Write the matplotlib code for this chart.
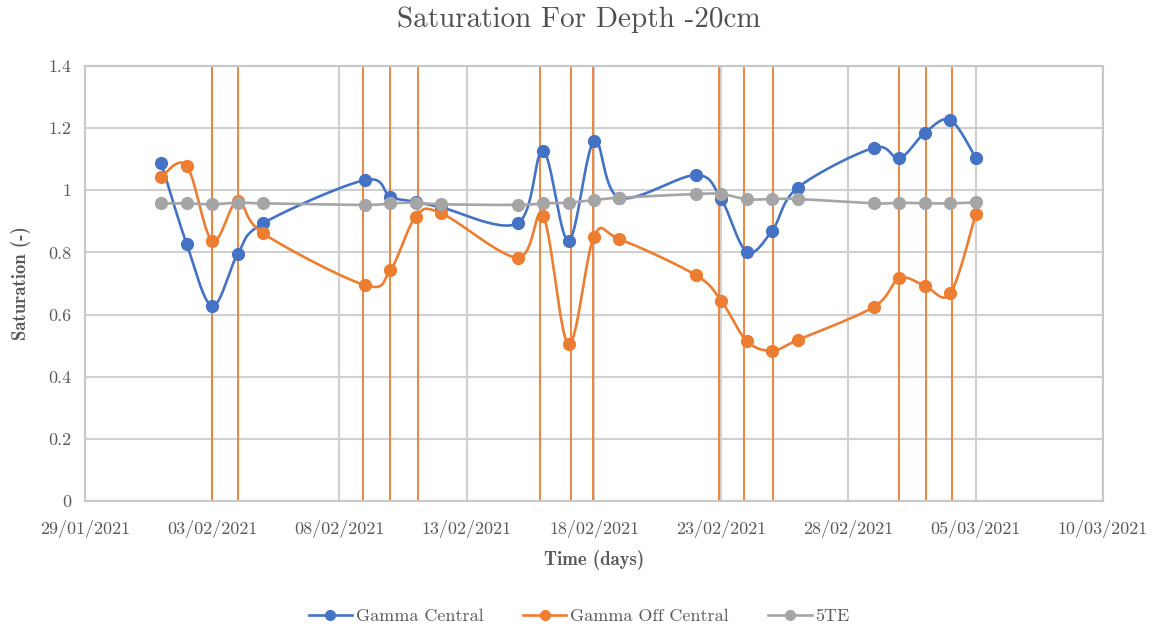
import numpy as np
import matplotlib
matplotlib.use("Agg")
import matplotlib.pyplot as plt
import matplotlib.dates as mdates
from datetime import datetime, timedelta

# measurement dates
dates = ["2021-02-01", "2021-02-02", "2021-02-03", "2021-02-04", "2021-02-05",
         "2021-02-09", "2021-02-10", "2021-02-11", "2021-02-12",
         "2021-02-15", "2021-02-16", "2021-02-17", "2021-02-18", "2021-02-19",
         "2021-02-22", "2021-02-23", "2021-02-24", "2021-02-25", "2021-02-26",
         "2021-03-01", "2021-03-02", "2021-03-03", "2021-03-04", "2021-03-05"]

gamma_central = [1.087, 0.826, 0.628, 0.795, 0.894,
                 1.033, 0.979, 0.963, 0.945,
                 0.894, 1.127, 0.838, 1.158, 0.976,
                 1.049, 0.971, 0.802, 0.870, 1.008,
                 1.137, 1.103, 1.185, 1.226, 1.105]

gamma_off_central = [1.044, 1.079, 0.837, 0.966, 0.861,
                     0.695, 0.743, 0.915, 0.926,
                     0.783, 0.918, 0.505, 0.851, 0.843,
                     0.727, 0.644, 0.515, 0.484, 0.518,
                     0.625, 0.717, 0.693, 0.668, 0.923]

five_te = [0.958, 0.958, 0.955, 0.960, 0.958,
           0.953, 0.958, 0.960, 0.955,
           0.953, 0.958, 0.960, 0.969, 0.976,
           0.988, 0.988, 0.971, 0.972, 0.972,
           0.958, 0.960, 0.958, 0.958, 0.961]

# vertical marker lines (Gamma Off Central), days after 29/01/2021
marker_days = [4.98, 6.0, 10.91, 11.98, 13.07, 17.89, 19.1, 19.97,
               24.91, 25.9, 27.02, 31.98, 33.03, 34.07]

start = datetime(2021, 1, 29)
tick_dates = [start + timedelta(days=5 * i) for i in range(9)]
tick_labels = [d.strftime("%d/%m/%Y") for d in tick_dates]
y_ticks = [0, 0.2, 0.4, 0.6, 0.8, 1, 1.2, 1.4]
y_labels = ["0", "0.2", "0.4", "0.6", "0.8", "1", "1.2", "1.4"]

BLUE, ORANGE, GREY = "#4472C4", "#ED7D31", "#A5A5A5"
TXT = "#595959"
serif = ["cmr10", "DejaVu Serif"]
serif_b = ["cmb10", "DejaVu Serif"]


def smooth(x, y, n=30):
    # Catmull-Rom style bezier through every point
    x = np.asarray(x, float)
    y = np.asarray(y, float)
    px = np.concatenate([[x[0]], x, [x[-1]]])
    py = np.concatenate([[y[0]], y, [y[-1]]])
    xs, ys = [], []
    t = np.linspace(0, 1, n)
    for i in range(1, len(px) - 2):
        p0 = np.array([px[i], py[i]])
        p3 = np.array([px[i + 1], py[i + 1]])
        c1 = p0 + (p3 - np.array([px[i - 1], py[i - 1]])) / 6
        c2 = p3 - (np.array([px[i + 2], py[i + 2]]) - p0) / 6
        b = ((1 - t) ** 3)[:, None] * p0 + (3 * (1 - t) ** 2 * t)[:, None] * c1 \
            + (3 * (1 - t) * t ** 2)[:, None] * c2 + (t ** 3)[:, None] * p3
        xs.extend(b[:, 0])
        ys.extend(b[:, 1])
    return np.array(xs), np.array(ys)


xd = mdates.date2num([datetime.strptime(d, "%Y-%m-%d") for d in dates])
x0 = mdates.date2num(start)

fig = plt.figure(figsize=(11.58, 6.28), dpi=100)
ax = fig.add_axes([0.0734, 0.2022, 0.8791, 0.6927])

for d in marker_days:
    ax.axvline(x0 + d, color=ORANGE, lw=1.3, zorder=2)

for vals, col, name in [(gamma_central, BLUE, "Gamma Central"),
                        (gamma_off_central, ORANGE, "Gamma Off Central"),
                        (five_te, GREY, "5TE")]:
    sx, sy = smooth(xd, vals)
    ax.plot(sx, sy, color=col, lw=1.9, zorder=3)
    ax.plot(xd, vals, "o", color=col, ms=8.5, zorder=4)
    ax.plot([], [], "-o", color=col, lw=1.9, ms=7, label=name)

ax.set_xlim(mdates.date2num(tick_dates[0]), mdates.date2num(tick_dates[-1]))
ax.set_ylim(0, 1.4)
ax.set_xticks(mdates.date2num(tick_dates))
ax.set_xticklabels(tick_labels, family=serif, fontsize=13, color=TXT)
ax.set_yticks(y_ticks)
ax.set_yticklabels(y_labels, family=serif, fontsize=13, color=TXT)
ax.tick_params(length=0, pad=14)
ax.tick_params(axis="y", pad=10)
ax.grid(True, color="#D0D0D0", lw=1.5, zorder=0)
ax.set_axisbelow(True)
for s in ax.spines.values():
    s.set_color("#C8C8C8")
    s.set_linewidth(1.5)

ax.set_xlabel("Time (days)", family=serif_b, fontsize=13.5, color=TXT, labelpad=8)
ax.set_ylabel("Saturation (-)", family=serif_b, fontsize=13.5, color=TXT, labelpad=12)
fig.suptitle("Saturation For Depth -20cm", family=serif, fontsize=21, color="#505050", y=0.99)

leg = fig.legend(loc="lower center", ncol=3, frameon=False, bbox_to_anchor=(0.5, -0.02),
                 prop={"family": serif, "size": 13}, handlelength=2.4,
                 handletextpad=0.2, columnspacing=2.2)
for t in leg.get_texts():
    t.set_color(TXT)

fig.savefig("out.png", dpi=100)
